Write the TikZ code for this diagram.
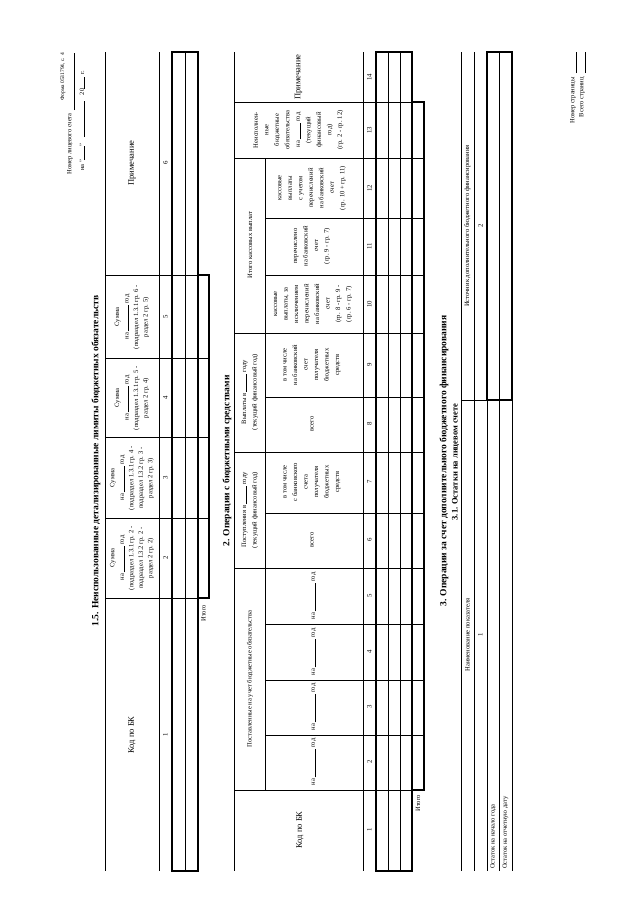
\documentclass[tikz,border=0pt]{standalone}
\usepackage{fontspec}
\setmainfont{Liberation Serif}
\usetikzlibrary{positioning}

\begin{document}
\begin{tikzpicture}[x=1pt,y=-1pt,
  colhead/.style={rotate=90,align=center,inner sep=0pt,font=\fontsize{6.6}{9.5}\selectfont},
  tallhead/.style={colhead,font=\fontsize{6.6}{10.5}\selectfont},
  bighead/.style={rotate=90,align=center,inner sep=0pt,font=\fontsize{8.5}{9}\selectfont},
  colnum/.style={rotate=90,inner sep=0pt,font=\fontsize{6.8}{7}\selectfont},
  secttl/.style={rotate=90,inner sep=0pt,font=\fontsize{9.5}{11}\selectfont\bfseries},
  rowlbl/.style={rotate=90,inner sep=0pt,font=\fontsize{6.5}{7}\selectfont},
  ruleln/.style={line width=0.65pt},
  boldln/.style={line width=1.9pt}]
\fill[white] (0,0) rectangle (640,905);
\useasboundingbox (0,0) rectangle (640,905);

% page header
\node[rowlbl,anchor=east,font=\fontsize{5.5}{6}\selectfont] (form) at (63,53) {Форма 0531794, с. 4};
\node[rowlbl,anchor=east] (acct) at (70,113) {Номер лицевого счета};
\draw[ruleln] (74.5,110) -- (74.5,53);
\node[rowlbl] (date) at (82,121) {на "\rule{14pt}{0.4pt}"\hspace{6pt}\rule{36pt}{0.4pt}\hspace{6pt}20\rule{12pt}{0.4pt}\hspace{2pt}г.};
\node[rowlbl,anchor=east] (pgno) at (573,77) {Номер страницы};
\node[rowlbl,anchor=east] (pgall) at (582,77) {Всего страниц};
\draw[ruleln] (576.5,73) -- (576.5,52);
\draw[ruleln] (585.5,73) -- (585.5,52);

% 1.5
\node[secttl] (t15) at (96,461) {1.5. Неиспользованные детализированные лимиты бюджетных обязательств};
\draw[ruleln] (105,52) -- (105,871);
\draw[ruleln] (159,52) -- (159,871);
\draw[ruleln] (185,52) -- (185,871);
\foreach \yy in {275,358,437,518,598} \draw[ruleln] (105,\yy) -- (209,\yy);
\draw[boldln] (172,52) rectangle (198,871);
\draw[boldln] (198,275) -- (209,275) -- (209,598) -- (198,598);

\node[bighead] (k15) at (132,735) {Код по БК};
\node[colhead] (s15a) at (132,558) {Сумма\\на \rule{26pt}{0.4pt} год\\(подраздел 1.3.1 гр. 2 -\\подраздел 1.3.2 гр. 2 -\\раздел 2 гр. 2)};
\node[colhead] (s15b) at (132,478) {Сумма\\на \rule{26pt}{0.4pt} год\\(подраздел 1.3.1 гр. 4 -\\подраздел 1.3.2 гр. 3 -\\раздел 2 гр. 3)};
\node[colhead] (s15c) at (132,398) {Сумма\\на \rule{26pt}{0.4pt} год\\(подраздел 1.3.1 гр. 5 -\\раздел 2 гр. 4)};
\node[colhead] (s15d) at (132,317) {Сумма\\на \rule{26pt}{0.4pt} год\\(подраздел 1.3.1 гр. 6 -\\раздел 2 гр. 5)};
\node[bighead] (p15) at (132,163) {Примечание};
\foreach \yy/\nn in {735/1,558/2,478/3,398/4,317/5,163/6}
  \node[colnum] (n15-\nn) at (165.5,\yy) {\nn};
\node[rowlbl,anchor=east] (it15) at (203.5,605) {Итого};

% 2
\node[secttl] (t2) at (227,461) {2. Операции с бюджетными средствами};
\draw[ruleln] (234,52) -- (234,871);
\draw[ruleln] (265,158) -- (265,790);
\draw[ruleln] (363,52) -- (363,871);
\draw[ruleln] (388,52) -- (388,871);
\draw[ruleln] (400,52) -- (400,871);
\foreach \yy in {102,158,333,452,568,790} \draw[ruleln] (234,\yy) -- (424,\yy);
\foreach \yy in {218,275,397,513,624,680,735} \draw[ruleln] (265,\yy) -- (424,\yy);
\draw[boldln] (376,52) rectangle (412,871);
\draw[boldln] (412,102) -- (424,102) -- (424,790) -- (412,790);

\node[bighead] (k2) at (300,830) {Код по БК};
\node[colhead] (g2a) at (250,679) {Поставленные на учет бюджетные обязательства};
\foreach \yy/\nn in {762/2,707/3,652/4,596/5}
  \node[colhead] (na\nn) at (314,\yy) {на \rule{28pt}{0.4pt} год};
\node[tallhead] (g2b) at (250,510) {Поступления в \rule{18pt}{0.4pt} году\\(текущий финансовый год)};
\node[tallhead] (g2c) at (250,392) {Выплаты в \rule{18pt}{0.4pt} году\\(текущий финансовый год)};
\node[colhead] (g2d) at (250,245) {Итого кассовых выплат};
\node[colhead] (c6) at (312,540) {всего};
\node[tallhead] (c7) at (312,482) {в том числе\\с банковского\\счета\\получателя\\бюджетных\\средств};
\node[colhead] (c8) at (312,424) {всего};
\node[tallhead] (c9) at (312,365) {в том числе\\на банковский\\счет\\получателя\\бюджетных\\средств};
\node[tallhead] (c10) at (313,304) {кассовые\\выплаты, за\\исключением\\перечислений\\на банковский\\счет\\(гр. 8 - гр. 9 -\\(гр. 6 - гр. 7)};
\node[tallhead] (c11) at (312,246) {перечислено\\на банковский\\счет\\(гр. 9 - гр. 7)};
\node[tallhead] (c12) at (312,188) {кассовые\\выплаты\\с учетом\\перечислений\\на банковский\\счет\\(гр. 10 + гр. 11)};
\node[tallhead] (c13) at (298.5,130) {Неисполнен-\\ные\\бюджетные\\обязательства\\на \rule{16pt}{0.4pt} год\\(текущий\\финансовый\\год)\\(гр. 2 - гр. 12)};
\node[bighead] (c14) at (298.5,77) {Примечание};
\foreach \yy/\nn in {830/1,762/2,707/3,652/4,596/5,540/6,482/7,424/8,365/9,304/10,246/11,188/12,130/13,77/14}
  \node[colnum] (n2-\nn) at (369.5,\yy) {\nn};
\node[rowlbl,anchor=east] (it2) at (418,795) {Итого};

% 3
\node[secttl] (t3) at (444,461) {3. Операции за счет дополнительного бюджетного финансирования};
\node[secttl,font=\fontsize{8.5}{10}\selectfont\bfseries] (t31) at (455.5,462) {3.1. Остатки на лицевом счете};
\foreach \xx in {461,474,487,499,512} \draw[ruleln] (\xx,52) -- (\xx,871);
\draw[ruleln] (461,400) -- (512,400);
\draw[boldln] (487,52) rectangle (512,400);
\node[colhead] (h31a) at (467.5,635) {Наименование показателя};
\node[colhead] (h31b) at (467.5,226) {Источник дополнительного бюджетного финансирования};
\node[colnum] (n31a) at (480.5,635) {1};
\node[colnum] (n31b) at (480.5,226) {2};
\node[rowlbl,anchor=west] (r31a) at (493,869) {Остаток на начало года};
\node[rowlbl,anchor=west] (r31b) at (505.5,869) {Остаток на отчетную дату};
\end{tikzpicture}
\end{document}
